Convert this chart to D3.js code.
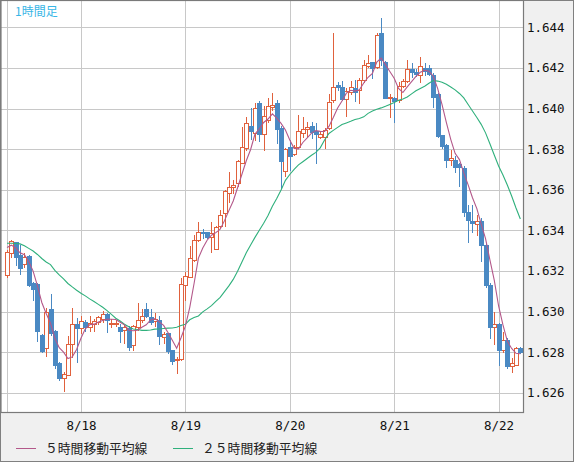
<!DOCTYPE html>
<meta charset="utf-8">
<style>
body { margin: 0; background: #fff; }
text { font-family: "DejaVu Sans Mono", monospace; font-size: 12.5px; fill: #111; }
.grid line { stroke: #c8c8c8; stroke-width: 1; shape-rendering: crispEdges; }
.jp { font-family: "Noto Sans CJK JP", sans-serif; }
</style>
<svg width="574" height="462"></svg>
<script src="https://d3js.org/d3.v7.min.js"></script>
<script>

// 1時間足 8/17 7:00 - 8/22 5:00 (index = hour)
var opens = [1.63180,1.63290,1.63340,1.63279,1.63233,1.63274,1.63142,1.63136,1.62882,1.62818,
  1.63010,1.62906,1.62745,1.62671,1.62689,1.62842,1.62939,1.62918,1.62947,1.62926,
  1.62940,1.62947,1.62962,1.62990,1.62936,1.62936,1.62926,1.62910,1.62920,1.62834,
  1.62926,1.62959,1.63010,1.62974,1.62951,1.62957,1.62875,1.62892,1.62812,1.62760,
  1.62764,1.63131,1.63172,1.63254,1.63352,1.63393,1.63393,1.63366,1.63310,1.63419,
  1.63485,1.63584,1.63613,1.63633,1.63733,1.63804,1.63914,1.63877,1.64025,1.63872,
  1.63943,1.64005,1.64025,1.63904,1.63694,1.63811,1.63775,1.63811,1.63877,1.63897,
  1.63914,1.63889,1.63859,1.63862,1.63903,1.64044,1.64116,1.64105,1.64045,1.64083,
  1.64099,1.64091,1.64140,1.64210,1.64231,1.64206,1.64373,1.64231,1.64050,1.64050,
  1.64044,1.64111,1.64136,1.64195,1.64180,1.64167,1.64199,1.64199,1.64165,1.64071,
  1.63869,1.63820,1.63746,1.63746,1.63726,1.63707,1.63488,1.63447,1.63431,1.63447,
  1.63329,1.63131,1.62926,1.62936,1.62810,1.62862,1.62730,1.62737,1.62821];
var highs = [1.63304,1.63353,1.63344,1.63328,1.63287,1.63279,1.63147,1.63139,1.62887,1.63018,
  1.63084,1.62911,1.62750,1.62704,1.62878,1.63018,1.62969,1.62977,1.62956,1.62980,
  1.62964,1.62980,1.63001,1.62993,1.62964,1.62960,1.62936,1.62934,1.62928,1.62933,
  1.63041,1.63011,1.63041,1.63011,1.62995,1.62980,1.62898,1.62895,1.62812,1.62778,
  1.63164,1.63197,1.63325,1.63377,1.63442,1.63406,1.63393,1.63442,1.63419,1.63500,
  1.63600,1.63687,1.63649,1.63746,1.63910,1.63960,1.64003,1.64025,1.64036,1.64011,
  1.64052,1.64077,1.64044,1.63912,1.63804,1.63844,1.63820,1.63968,1.63959,1.63934,
  1.63934,1.63931,1.63889,1.63903,1.64069,1.64370,1.64132,1.64137,1.64099,1.64137,
  1.64140,1.64149,1.64239,1.64264,1.64231,1.64370,1.64444,1.64234,1.64071,1.64058,
  1.64132,1.64146,1.64239,1.64223,1.64193,1.64256,1.64223,1.64215,1.64173,1.64075,
  1.63869,1.63823,1.63795,1.63766,1.63733,1.63715,1.63526,1.63526,1.63476,1.63460,
  1.63332,1.63139,1.62999,1.62941,1.62900,1.62867,1.62770,1.62826,1.62826];
var lows = [1.63172,1.63270,1.63230,1.63185,1.63221,1.63126,1.63057,1.62853,1.62800,1.62782,
  1.62885,1.62720,1.62663,1.62606,1.62685,1.62777,1.62752,1.62895,1.62906,1.62905,
  1.62905,1.62936,1.62947,1.62900,1.62926,1.62931,1.62852,1.62843,1.62812,1.62812,
  1.62910,1.62947,1.62973,1.62940,1.62928,1.62842,1.62846,1.62797,1.62743,1.62699,
  1.62761,1.63057,1.63169,1.63249,1.63347,1.63360,1.63360,1.63295,1.63306,1.63416,
  1.63422,1.63537,1.63584,1.63616,1.63730,1.63795,1.63851,1.63847,1.63839,1.63795,
  1.63935,1.63995,1.63829,1.63610,1.63669,1.63699,1.63770,1.63803,1.63861,1.63861,
  1.63853,1.63732,1.63856,1.63804,1.63899,1.64033,1.64091,1.64042,1.63962,1.64071,
  1.64037,1.64026,1.64132,1.64205,1.64150,1.64198,1.64214,1.64050,1.63956,1.63935,
  1.64034,1.64107,1.64132,1.64156,1.64161,1.64130,1.64165,1.64165,1.64008,1.63861,
  1.63804,1.63713,1.63721,1.63689,1.63616,1.63468,1.63340,1.63390,1.63378,1.63250,
  1.63120,1.62869,1.62838,1.62736,1.62802,1.62720,1.62704,1.62735,1.62796];
var closes = [1.63295,1.63349,1.63270,1.63213,1.63270,1.63131,1.63110,1.62906,1.62805,1.62999,
  1.62895,1.62736,1.62674,1.62694,1.62842,1.62936,1.62918,1.62951,1.62926,1.62942,
  1.62951,1.62972,1.62988,1.62957,1.62942,1.62945,1.62905,1.62922,1.62826,1.62928,
  1.62959,1.62978,1.62980,1.62947,1.62962,1.62878,1.62890,1.62805,1.62758,1.62766,
  1.63134,1.63175,1.63263,1.63352,1.63390,1.63385,1.63366,1.63385,1.63416,1.63476,
  1.63595,1.63613,1.63623,1.63741,1.63808,1.63927,1.63891,1.64003,1.63872,1.63963,
  1.64011,1.64018,1.63901,1.63741,1.63799,1.63766,1.63811,1.63890,1.63897,1.63910,
  1.63886,1.63872,1.63872,1.63894,1.64033,1.64105,1.64107,1.64047,1.64086,1.64105,
  1.64083,1.64140,1.64215,1.64226,1.64201,1.64362,1.64239,1.64053,1.64055,1.64038,
  1.64111,1.64136,1.64194,1.64182,1.64170,1.64210,1.64187,1.64170,1.64058,1.63864,
  1.63817,1.63746,1.63756,1.63713,1.63710,1.63488,1.63452,1.63438,1.63447,1.63329,
  1.63131,1.62926,1.62940,1.62810,1.62862,1.62732,1.62745,1.62821,1.62801];
// closes of the 4 hours before the first candle (for the 5h average)
var prevCloses = [1.63290,1.63340,1.63330,1.63320];
var ma25 = [1.63336,1.63336,1.63335,1.63333,1.63324,1.63311,1.63298,1.63281,1.63261,1.63244,
  1.63231,1.63203,1.63180,1.63161,1.63138,1.63121,1.63105,1.63090,1.63077,1.63062,
  1.63049,1.63035,1.63021,1.63004,1.62986,1.62967,1.62953,1.62937,1.62925,1.62914,
  1.62911,1.62907,1.62907,1.62909,1.62913,1.62914,1.62916,1.62918,1.62919,1.62922,
  1.62931,1.62937,1.62959,1.62970,1.62978,1.62998,1.63013,1.63029,1.63050,1.63070,
  1.63098,1.63126,1.63158,1.63198,1.63244,1.63289,1.63328,1.63365,1.63400,1.63435,
  1.63473,1.63518,1.63557,1.63599,1.63646,1.63675,1.63700,1.63722,1.63738,1.63754,
  1.63770,1.63784,1.63806,1.63845,1.63877,1.63892,1.63907,1.63921,1.63929,1.63937,
  1.63946,1.63951,1.63959,1.63976,1.63988,1.63996,1.64003,1.64011,1.64020,1.64029,
  1.64040,1.64047,1.64057,1.64072,1.64087,1.64099,1.64110,1.64124,1.64138,1.64135,
  1.64129,1.64119,1.64106,1.64092,1.64074,1.64052,1.64020,1.63988,1.63956,1.63922,
  1.63880,1.63826,1.63771,1.63717,1.63672,1.63623,1.63569,1.63510,1.63456];

var dayTicks = [17, 41, 65, 89, 113];
var dayLabels = ["8/18", "8/19", "8/20", "8/21", "8/22"];
var priceTicks = [1.626, 1.628, 1.630, 1.632, 1.634, 1.636, 1.638, 1.640, 1.642, 1.644];

var svg = d3.select("svg"),
    width = +svg.attr("width"),
    height = +svg.attr("height");

var plotW = 523, plotH = 412;

var x = d3.scaleLinear().domain([0, 113]).range([7, 498.6]);
var y = d3.scaleLinear().domain([1.626, 1.644]).range([392.7, 27.3]);

function px(v) { return Math.round(v) + 0.5; }

// background panels
svg.append("rect").attr("width", width).attr("height", height).attr("fill", "#f0f0f0");
svg.append("rect").attr("x", 1).attr("y", 1).attr("width", plotW - 1).attr("height", plotH - 1).attr("fill", "#fff");

// grid
var grid = svg.append("g").attr("class", "grid");
grid.selectAll(".h").data(priceTicks).enter().append("line")
    .attr("x1", 1).attr("x2", plotW)
    .attr("y1", function(d) { return px(y(d)); })
    .attr("y2", function(d) { return px(y(d)); });
grid.selectAll(".v").data([0].concat(dayTicks)).enter().append("line")
    .attr("y1", 1).attr("y2", plotH)
    .attr("x1", function(d) { return px(x(d)); })
    .attr("x2", function(d) { return px(x(d)); });

// price labels
svg.append("g").selectAll("text").data(priceTicks).enter().append("text")
    .attr("x", 527)
    .attr("y", function(d) { return y(d) + 4.5; })
    .text(d3.format(".3f"));

// date labels
svg.append("g").selectAll("text").data(dayTicks).enter().append("text")
    .attr("x", function(d) { return x(d) + 0.5; })
    .attr("y", 430)
    .attr("text-anchor", "middle")
    .text(function(d, i) { return dayLabels[i]; });

// candles
var candles = d3.range(closes.length).map(function(i) {
  return { i: i, o: opens[i], h: highs[i], l: lows[i], c: closes[i], up: closes[i] >= opens[i] };
});
var upColor = "#e0613d", downColor = "#4a89c3";

var cg = svg.append("g").attr("shape-rendering", "crispEdges");
cg.selectAll("line").data(candles).enter().append("line")
    .attr("x1", function(d) { return px(x(d.i)); })
    .attr("x2", function(d) { return px(x(d.i)); })
    .attr("y1", function(d) { return Math.round(y(d.h)); })
    .attr("y2", function(d) { return Math.round(y(d.l)) + 1; })
    .attr("stroke", function(d) { return d.up ? upColor : downColor; });

cg.selectAll("rect.up").data(candles.filter(function(d) { return d.up; })).enter().append("rect")
    .attr("x", function(d) { return px(x(d.i)) - 2; })
    .attr("y", function(d) { return px(y(d.c)); })
    .attr("width", 4)
    .attr("height", function(d) { return Math.max(1, Math.round(y(d.o)) - Math.round(y(d.c))); })
    .attr("fill", "#fff")
    .attr("stroke", upColor);

cg.selectAll("rect.down").data(candles.filter(function(d) { return !d.up; })).enter().append("rect")
    .attr("x", function(d) { return px(x(d.i)) - 2.5; })
    .attr("y", function(d) { return Math.round(y(d.o)); })
    .attr("width", 5)
    .attr("height", function(d) { return Math.max(2, Math.round(y(d.c)) - Math.round(y(d.o)) + 1); })
    .attr("fill", downColor);

// moving averages
var all = prevCloses.concat(closes);
var ma5 = closes.map(function(c, i) { return d3.mean(all.slice(i, i + 5)); });

var line = d3.line()
    .x(function(d, i) { return x(i); })
    .y(function(d) { return y(d); });

svg.append("path").datum(ma25).attr("d", line)
    .attr("fill", "none").attr("stroke", "#2fb07c").attr("stroke-width", 1.1);
svg.append("path").datum(ma5).attr("d", line)
    .attr("fill", "none").attr("stroke", "#b3588a").attr("stroke-width", 1.1);

// frames
svg.append("rect").attr("x", 0.5).attr("y", 0.5).attr("width", width - 1).attr("height", height - 1)
    .attr("fill", "none").attr("stroke", "#808080");
svg.append("rect").attr("x", 1).attr("y", 0.5).attr("width", plotW - 0.5).attr("height", plotH)
    .attr("fill", "none").attr("stroke", "#7a7a7a").attr("stroke-width", 1.2);

// title
svg.append("text").attr("class", "jp")
    .attr("x", 15).attr("y", 16)
    .style("font-size", "12px").style("fill", "#38b6e6")
    .text("1時間足");

// legend
var legend = [
  { name: "５時間移動平均線", color: "#b3588a", x: 16 },
  { name: "２５時間移動平均線", color: "#2fb07c", x: 173 }
];
var lg = svg.append("g").selectAll("g").data(legend).enter().append("g");
lg.append("line")
    .attr("x1", function(d) { return d.x; })
    .attr("x2", function(d) { return d.x + 20; })
    .attr("y1", 448.5).attr("y2", 448.5)
    .attr("stroke", function(d) { return d.color; });
lg.append("text").attr("class", "jp")
    .attr("x", function(d) { return d.x + 29; })
    .attr("y", 453)
    .style("font-size", "12.8px").style("fill", "#222")
    .text(function(d) { return d.name; });

</script>
